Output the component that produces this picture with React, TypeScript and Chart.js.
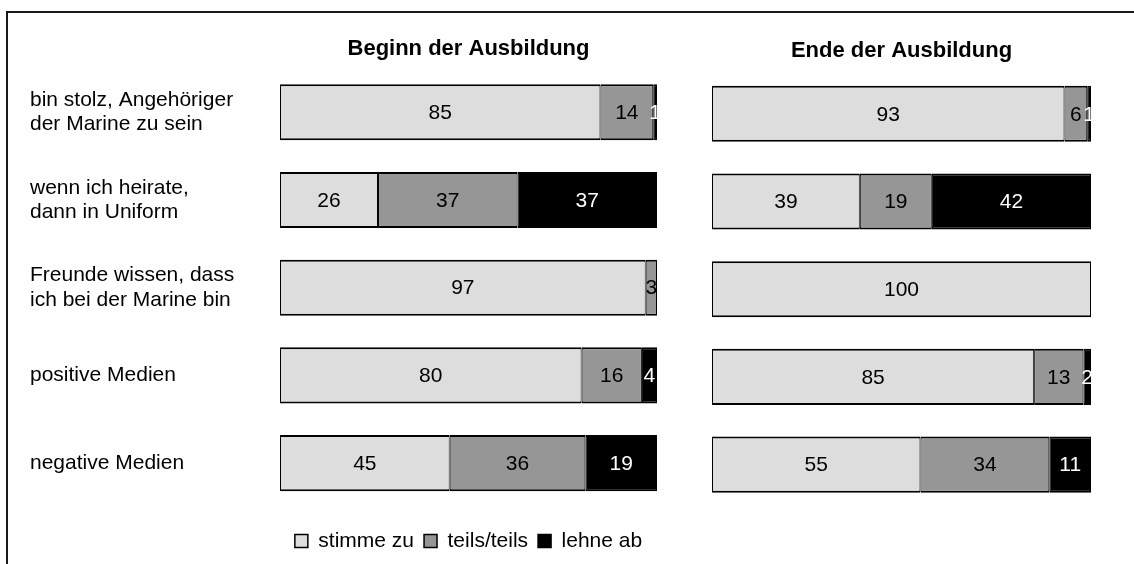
import React, { useEffect, useRef } from 'react';
import { Chart, registerables } from 'chart.js';

Chart.register(...registerables);

const categories: (string | string[])[] = [
  ['bin stolz, Angehöriger', 'der Marine zu sein'],
  ['wenn ich heirate,', 'dann in Uniform'],
  ['Freunde wissen, dass', 'ich bei der Marine bin'],
  'positive Medien',
  'negative Medien',
];
const seriesNames = ['stimme zu', 'teils/teils', 'lehne ab'];
const panelTitles = ['Beginn der Ausbildung', 'Ende der Ausbildung'];

const beginnZu = [85, 26, 97, 80, 45];
const beginnTeils = [14, 37, 3, 16, 36];
const beginnAb = [1, 37, 0, 4, 19];

const endeZu = [93, 39, 100, 85, 55];
const endeTeils = [6, 19, 0, 13, 34];
const endeAb = [1, 42, 0, 2, 11];

const FONT = "'Liberation Sans', Arial, Helvetica, sans-serif";
const fills = ['#dddddd', '#969696', '#000000'];
const labelColors = ['#000000', '#000000', '#ffffff'];

const valueLabels = {
  id: 'valueLabels',
  afterDatasetsDraw(chart: any) {
    const ctx = chart.ctx;
    ctx.save();
    ctx.font = `21px ${FONT}`;
    ctx.textAlign = 'center';
    ctx.textBaseline = 'middle';
    chart.data.datasets.forEach((ds: any, di: number) => {
      const meta = chart.getDatasetMeta(di);
      meta.data.forEach((el: any, i: number) => {
        const v = ds.data[i];
        if (!v) return;
        const p = el.getProps(['x', 'base', 'y'], true);
        ctx.fillStyle = labelColors[di];
        ctx.fillText(String(v), (p.x + p.base) / 2, p.y + 1);
      });
    });
    ctx.restore();
  },
};

function makeConfig(
  title: string,
  series: number[][],
  showY: boolean,
  showLegend: boolean,
  padding: any,
  titlePad: any
): any {
  return {
    type: 'bar',
    data: {
      labels: categories,
      datasets: series.map((d, i) => ({
        label: seriesNames[i],
        data: d,
        backgroundColor: fills[i],
        borderColor: '#000000',
        borderWidth: { top: 2, bottom: 2, left: 1, right: 1 },
        borderSkipped: false,
        barPercentage: 0.64,
        categoryPercentage: 1,
      })),
    },
    options: {
      indexAxis: 'y',
      responsive: false,
      animation: false,
      events: [],
      layout: { padding },
      scales: {
        x: {
          stacked: true,
          min: 0,
          max: 100,
          display: showLegend,
          ticks: { display: false },
          grid: { display: false, drawTicks: true, tickLength: 13.5 },
          border: { display: false },
        },
        y: {
          stacked: true,
          display: showY,
          grid: { display: false },
          border: { display: false },
          ticks: {
            color: '#000000',
            crossAlign: 'far',
            padding: 0,
            font: { family: FONT, size: 21, lineHeight: 1.15 },
          },
          afterFit: (s: any) => {
            if (showY) s.width = 250;
          },
        },
      },
      plugins: {
        title: {
          display: true,
          text: title,
          fullSize: false,
          color: '#000000',
          font: { family: FONT, size: 22, weight: 'bold', lineHeight: 1.2 },
          padding: titlePad,
        },
        legend: {
          display: showLegend,
          position: 'bottom',
          fullSize: false,
          labels: {
            color: '#000000',
            boxWidth: 13,
            boxHeight: 13,
            padding: 10,
            font: { family: FONT, size: 21 },
          },
        },
        tooltip: { enabled: false },
      },
    },
    plugins: [valueLabels],
  };
}

export default function App() {
  const leftRef = useRef<HTMLCanvasElement>(null);
  const rightRef = useRef<HTMLCanvasElement>(null);

  useEffect(() => {
    const left = new Chart(
      leftRef.current as HTMLCanvasElement,
      makeConfig(
        panelTitles[0],
        [beginnZu, beginnTeils, beginnAb],
        true,
        true,
        { top: 26, left: 30, right: 13, bottom: 2.5 },
        { top: 10, bottom: 6 }
      )
    );
    const right = new Chart(
      rightRef.current as HTMLCanvasElement,
      makeConfig(
        panelTitles[1],
        [endeZu, endeTeils, endeAb],
        false,
        false,
        { top: 27.5, left: 22, right: 43, bottom: 55.5 },
        { top: 10, bottom: 6 }
      )
    );
    return () => {
      left.destroy();
      right.destroy();
    };
  }, []);

  return (
    <div
      style={{
        position: 'fixed',
        left: 0,
        top: 0,
        width: 1134,
        height: 564,
        overflow: 'hidden',
        background: '#ffffff',
      }}
    >
      <div
        style={{
          position: 'absolute',
          left: 6,
          top: 11,
          width: 1200,
          height: 700,
          border: '2px solid #1a1a1a',
          boxSizing: 'border-box',
        }}
      />
      <canvas
        ref={leftRef}
        width={670}
        height={564}
        style={{ position: 'absolute', left: 0, top: 0 }}
      />
      <canvas
        ref={rightRef}
        width={444}
        height={564}
        style={{ position: 'absolute', left: 690, top: 0 }}
      />
    </div>
  );
}
